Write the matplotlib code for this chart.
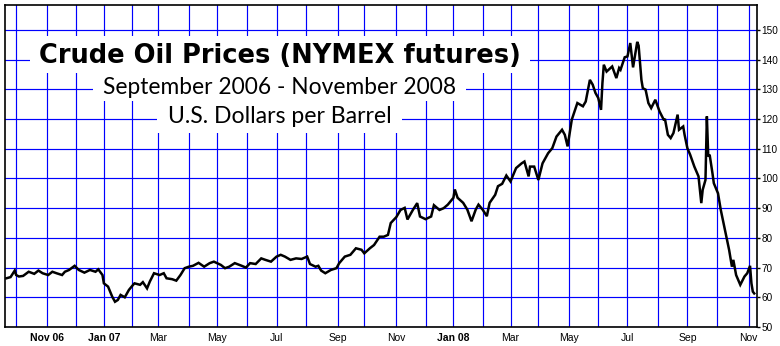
import numpy as np
import matplotlib
matplotlib.use("Agg")
import matplotlib.pyplot as plt
from matplotlib.patches import Rectangle

# ---------------- data ----------------
dates = [
    "2006-09-21", "2006-09-26", "2006-09-29", "2006-10-02", "2006-10-04", "2006-10-09",
    "2006-10-13", "2006-10-19", "2006-10-24", "2006-10-27", "2006-11-02", "2006-11-07",
    "2006-11-10", "2006-11-16", "2006-11-20", "2006-11-24", "2006-11-30", "2006-12-05",
    "2006-12-11", "2006-12-15", "2006-12-21", "2006-12-26", "2006-12-29", "2007-01-03",
    "2007-01-08", "2007-01-11", "2007-01-16", "2007-01-18", "2007-01-22", "2007-01-25",
    "2007-01-30", "2007-02-02", "2007-02-05", "2007-02-09", "2007-02-13", "2007-02-16",
    "2007-02-21", "2007-02-26", "2007-03-02", "2007-03-07", "2007-03-09", "2007-03-15",
    "2007-03-20", "2007-03-23", "2007-03-28", "2007-04-02", "2007-04-05", "2007-04-12",
    "2007-04-18", "2007-04-24", "2007-04-27", "2007-05-04", "2007-05-09", "2007-05-14",
    "2007-05-18", "2007-05-25", "2007-05-31", "2007-06-05", "2007-06-11", "2007-06-15",
    "2007-06-20", "2007-06-26", "2007-07-02", "2007-07-06", "2007-07-11", "2007-07-17",
    "2007-07-23", "2007-07-27", "2007-08-02", "2007-08-06", "2007-08-10", "2007-08-14",
    "2007-08-16", "2007-08-21", "2007-08-27", "2007-08-31", "2007-09-05", "2007-09-11",
    "2007-09-17", "2007-09-21", "2007-09-27", "2007-10-01", "2007-10-05", "2007-10-10",
    "2007-10-16", "2007-10-19", "2007-10-24", "2007-10-26", "2007-11-01", "2007-11-06",
    "2007-11-09", "2007-11-13", "2007-11-19", "2007-11-23", "2007-11-27", "2007-12-03",
    "2007-12-07", "2007-12-11", "2007-12-17", "2007-12-20", "2007-12-26", "2008-01-02",
    "2008-01-03", "2008-01-07", "2008-01-11", "2008-01-16", "2008-01-22", "2008-01-25",
    "2008-01-29", "2008-02-01", "2008-02-06", "2008-02-08", "2008-02-14", "2008-02-19",
    "2008-02-22", "2008-02-27", "2008-03-03", "2008-03-07", "2008-03-13", "2008-03-17",
    "2008-03-20", "2008-03-24", "2008-03-27", "2008-04-01", "2008-04-04", "2008-04-10",
    "2008-04-15", "2008-04-18", "2008-04-24", "2008-04-28", "2008-04-30", "2008-05-05",
    "2008-05-09", "2008-05-15", "2008-05-19", "2008-05-22", "2008-05-27", "2008-05-29",
    "2008-06-02", "2008-06-04", "2008-06-05", "2008-06-06", "2008-06-10", "2008-06-16",
    "2008-06-19", "2008-06-23", "2008-06-24", "2008-06-27", "2008-07-01", "2008-07-03",
    "2008-07-08", "2008-07-11", "2008-07-14", "2008-07-16", "2008-07-17", "2008-07-21",
    "2008-07-23", "2008-07-25", "2008-07-30", "2008-08-04", "2008-08-07", "2008-08-08",
    "2008-08-12", "2008-08-14", "2008-08-18", "2008-08-21", "2008-08-22", "2008-08-27",
    "2008-08-28", "2008-09-02", "2008-09-04", "2008-09-09", "2008-09-12", "2008-09-16",
    "2008-09-17", "2008-09-19", "2008-09-22", "2008-09-23", "2008-09-24", "2008-09-26",
    "2008-09-29", "2008-10-02", "2008-10-06", "2008-10-08", "2008-10-10", "2008-10-14",
    "2008-10-16", "2008-10-17", "2008-10-21", "2008-10-24", "2008-10-29", "2008-10-31",
    "2008-11-04", "2008-11-05", "2008-11-06", "2008-11-07",
]
prices = [
    66.4, 66.8, 69.0, 67.5, 67.0, 67.2,
    68.6, 67.9, 69.0, 68.1, 67.5, 68.6,
    68.1, 67.5, 68.6, 69.2, 70.6, 69.2,
    68.3, 69.2, 68.6, 69.4, 67.5, 64.7,
    63.6, 60.2, 58.5, 59.1, 60.8, 60.0,
    62.5, 64.2, 64.7, 64.2, 65.1, 63.0,
    65.3, 68.1, 67.5, 68.1, 66.4, 66.1,
    65.6, 67.5, 69.8, 70.3, 70.6, 71.6,
    70.3, 71.5, 72.0, 70.9, 69.8, 70.3,
    71.5, 70.6, 70.0, 71.5, 71.2, 73.1,
    72.6, 72.0, 73.7, 74.3, 73.7, 72.6,
    73.1, 72.9, 73.7, 71.2, 70.3, 70.6,
    69.0, 68.1, 69.2, 69.8, 71.5, 73.7,
    74.3, 76.5, 76.0, 74.8, 76.5, 77.6,
    80.4, 80.4, 81.0, 85.0, 87.0, 89.4,
    90.1, 86.2, 89.5, 91.7, 87.2, 86.3,
    87.2, 91.0, 89.4, 90.0, 91.2, 93.5,
    96.3, 93.5, 91.8, 89.5, 85.6, 89.5,
    91.2, 89.5, 87.3, 91.8, 94.5, 97.4,
    98.2, 101.0, 99.0, 103.5, 105.1, 105.7,
    100.7, 104.0, 104.0, 99.5, 105.1, 108.5,
    110.2, 114.1, 116.4, 114.7, 110.8, 119.8,
    125.4, 124.3, 125.9, 133.2, 131.6, 128.8,
    127.1, 123.1, 132.1, 138.3, 136.0, 137.7,
    133.8, 137.2, 136.6, 140.8, 141.1, 145.6,
    137.4, 146.0, 144.7, 133.2, 130.4, 129.9,
    125.4, 123.7, 126.5, 122.6, 119.8, 119.8,
    114.7, 113.6, 115.3, 121.5, 116.4, 117.5,
    114.7, 110.2, 108.0, 104.0, 100.7, 91.7,
    96.2, 99.5, 120.9, 107.4, 108.0, 101.8,
    98.4, 95.0, 89.4, 84.9, 80.4, 75.9,
    70.3, 72.6, 67.5, 64.2, 67.0, 68.1,
    70.6, 64.7, 61.9, 61.3,
]

# NYMEX trading holidays (x axis is in trading days)
holidays = [
    "2006-11-23", "2006-12-25", "2007-01-01", "2007-01-02", "2007-01-15", "2007-02-19",
    "2007-04-06", "2007-05-28", "2007-07-04", "2007-09-03", "2007-11-22", "2007-12-25",
    "2008-01-01", "2008-01-21", "2008-02-18", "2008-03-21", "2008-05-26", "2008-07-04",
    "2008-09-01",
]

month_starts = [
    "2006-10-01", "2006-11-01", "2006-12-01", "2007-01-01", "2007-02-01", "2007-03-01",
    "2007-04-01", "2007-05-01", "2007-06-01", "2007-07-01", "2007-08-01", "2007-09-01",
    "2007-10-01", "2007-11-01", "2007-12-01", "2008-01-01", "2008-02-01", "2008-03-01",
    "2008-04-01", "2008-05-01", "2008-06-01", "2008-07-01", "2008-08-01", "2008-09-01",
    "2008-10-01", "2008-11-01",
]
month_labels = [
    "", "Nov 06", "", "Jan 07", "", "Mar", "", "May", "", "Jul", "", "Sep",
    "", "Nov", "", "Jan 08", "", "Mar", "", "May", "", "Jul", "", "Sep", "", "Nov",
]
y_ticks = [50, 60, 70, 80, 90, 100, 110, 120, 130, 140, 150]

title = "Crude Oil Prices (NYMEX futures)"
subtitle = "September 2006 - November 2008"
unit_line = "U.S. Dollars per Barrel"

# ---------------- drawing ----------------
plt.rcParams["font.family"] = ["Liberation Sans", "DejaVu Sans"]

ORIGIN = "2006-09-01"


def tpos(d):
    return np.busday_count(ORIGIN, np.array(d, dtype="datetime64[D]"),
                           holidays=np.array(holidays, dtype="datetime64[D]"))


fig = plt.figure(figsize=(7.8, 3.46), dpi=100)
fig.patch.set_facecolor("white")
ax = fig.add_axes([5 / 780, 19 / 346, 752 / 780, 322 / 346])

ax.plot(tpos(dates), prices, color="black", lw=1.8, zorder=4,
        solid_joinstyle="miter")

ax.set_xlim(tpos("2006-09-20"), tpos("2008-11-11"))
ax.set_ylim(50, 158.4)

ax.set_xticks(tpos(month_starts))
ax.set_xticklabels(month_labels)
for lbl, txt in zip(ax.get_xticklabels(), month_labels):
    if any(ch.isdigit() for ch in txt):
        lbl.set_fontweight("bold")
ax.tick_params(axis="x", length=0, pad=4, labelsize=7.5, colors="black")

ax.yaxis.tick_right()
ax.set_yticks(y_ticks)
ax.tick_params(axis="y", length=2, width=1, pad=1, labelsize=7.2, colors="black")

ax.grid(True, color="#0000ff", lw=0.85)
ax.set_axisbelow(True)
for sp in ax.spines.values():
    sp.set_color("black")
    sp.set_linewidth(1.2)

# white panels behind the headings
for (x0, y0, w, h) in [(0.0332, 0.7888, 0.6649, 0.1149),
                       (0.1170, 0.7019, 0.4960, 0.0869),
                       (0.2021, 0.6025, 0.3258, 0.0994)]:
    ax.add_patch(Rectangle((x0, y0), w, h, transform=ax.transAxes,
                           facecolor="white", edgecolor="none", zorder=5))

ax.text(0.3657, 0.8199, title, transform=ax.transAxes, ha="center", va="baseline",
        fontsize=18.5, fontweight="bold", family=["DejaVu Sans"], zorder=6)
ax.text(0.3657, 0.7236, subtitle, transform=ax.transAxes, ha="center", va="baseline",
        fontsize=16.4, family=["Lato", "DejaVu Sans"], zorder=6)
ax.text(0.3657, 0.6320, unit_line, transform=ax.transAxes, ha="center", va="baseline",
        fontsize=16.6, family=["Lato", "DejaVu Sans"], zorder=6)

fig.savefig("out.png", dpi=100, facecolor="white")
